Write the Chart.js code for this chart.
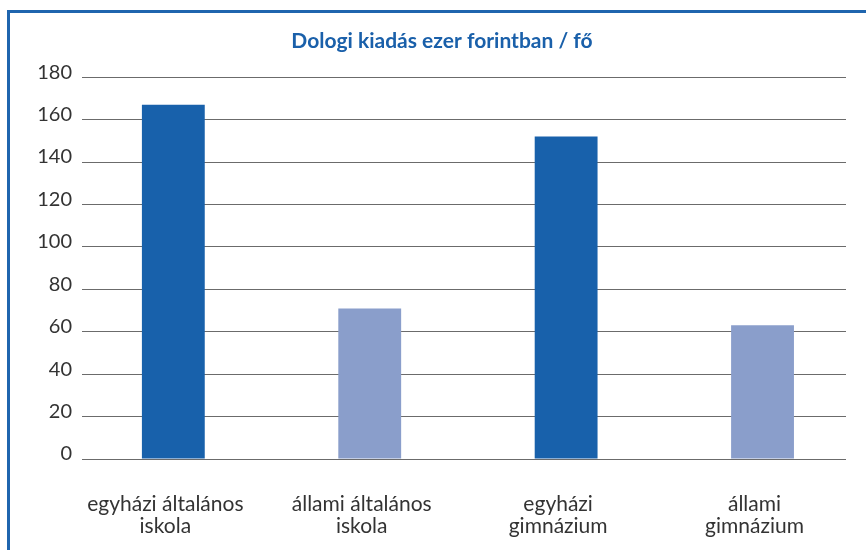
<!DOCTYPE html>
<html>
<head>
<meta charset="utf-8">
<script src="https://cdn.jsdelivr.net/npm/chart.js@4"></script>
<style>
    html, body { margin: 0; padding: 0; background: #fff; overflow: hidden; }
    .frame {
        position: absolute; left: 7px; top: 10px; width: 900px; height: 600px;
        border-left: 3px solid #1f65ae; border-top: 3px solid #1f65ae;
    }
    .chart-container { position: absolute; left: 0; top: 0; width: 866px; height: 550px; }
</style>
</head>
<body>
<div class="frame"></div>
<div class="chart-container"><canvas id="chart"></canvas></div>
<script>
const categories = [
    ['egyházi általános', 'iskola'],
    ['állami általános', 'iskola'],
    ['egyházi', 'gimnázium'],
    ['állami', 'gimnázium']
];
const values = [167, 71, 152, 63];
const barColors = ['#1861ab', '#8a9ecb', '#1861ab', '#8a9ecb'];
const yTicks = [0, 20, 40, 60, 80, 100, 120, 140, 160, 180];

document.addEventListener('DOMContentLoaded', () => {
    const ctx = document.getElementById('chart').getContext('2d');

    new Chart(ctx, {
        type: 'bar',
        data: {
            datasets: [{
                data: values.map((v, i) => ({ x: i, y: v })),
                backgroundColor: barColors,
                borderWidth: 0,
                barPercentage: 0.32,
                categoryPercentage: 1
            }]
        },
        options: {
            responsive: true,
            maintainAspectRatio: false,
            animation: false,
            layout: { padding: { left: 38, right: 20, top: 0, bottom: 0 } },
            plugins: {
                legend: { display: false },
                tooltip: { enabled: false },
                title: {
                    display: true,
                    text: 'Dologi kiadás ezer forintban / fő',
                    color: '#1a60aa',
                    font: { family: 'Lato', size: 21, weight: 'bold' },
                    padding: { top: 29, bottom: 23 }
                }
            },
            scales: {
                x: {
                    type: 'linear',
                    offset: false,
                    bounds: 'ticks',
                    min: -0.465,
                    max: 3.425,
                    afterBuildTicks: scale => {
                        scale.ticks = categories.map((c, i) => ({ value: i }));
                    },
                    afterFit: scale => { scale.height = 91; },
                    grid: { display: false },
                    border: { display: false },
                    ticks: {
                        autoSkip: false,
                        maxRotation: 0,
                        padding: 26,
                        labelOffset: -8,
                        color: '#333',
                        font: { family: 'Lato', size: 21, lineHeight: 1.07 },
                        callback: value => categories[value]
                    }
                },
                y: {
                    min: 0,
                    max: 180,
                    afterBuildTicks: scale => {
                        scale.ticks = yTicks.map(v => ({ value: v }));
                    },
                    afterFit: scale => { scale.width = 44; },
                    border: { display: false },
                    grid: { color: '#6b6b6b', lineWidth: 1, drawTicks: false },
                    ticks: {
                        padding: 10,
                        labelOffset: -5,
                        color: '#333',
                        font: { family: 'Lato', size: 20 }
                    }
                }
            }
        }
    });
});
</script>
</body>
</html>
